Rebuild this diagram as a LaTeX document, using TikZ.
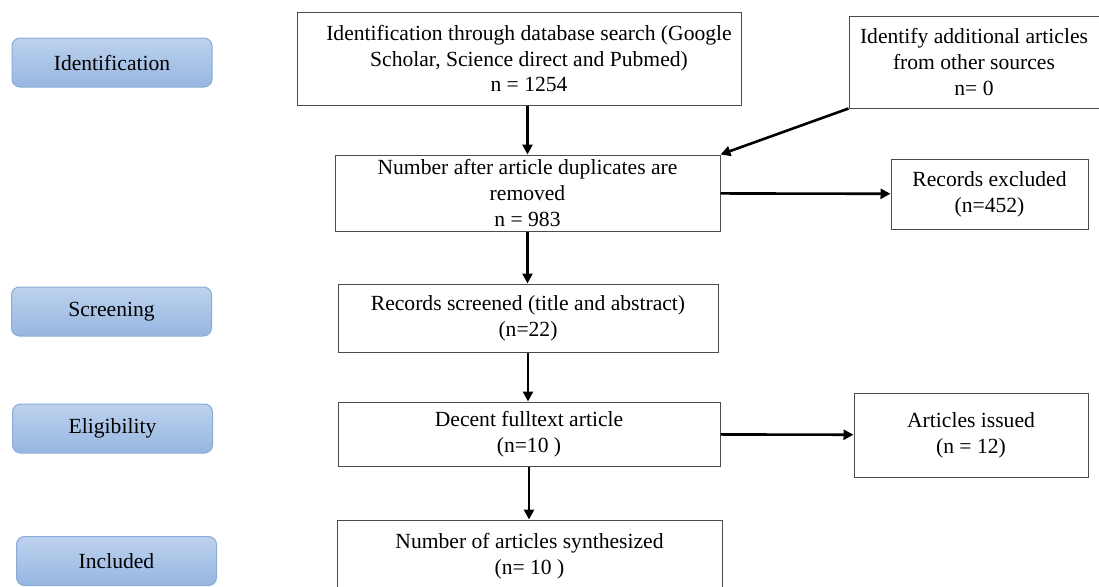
\documentclass[tikz,border=0pt]{standalone}
\usepackage{fontspec}
\setmainfont{Liberation Serif}
\usetikzlibrary{arrows.meta,positioning}
\definecolor{stagetop}{HTML}{BDD2EE}
\definecolor{stagebot}{HTML}{96B6E0}
\definecolor{stageline}{HTML}{8AABD6}
\tikzset{
    flow/.style={-{Triangle[length=5pt,width=5pt]},line width=1.3pt},
    box/.style ={rectangle, draw=black!70, line width=0.5pt, align=center,
                 inner sep=1pt, font=\fontsize{10.8}{12.9}\selectfont},
    stage/.style ={rectangle, rounded corners=4pt, draw=stageline, line width=0.5pt,
                   top color=stagetop, bottom color=stagebot,
                   minimum width=100pt, minimum height=24.5pt,
                   font=\fontsize{10.8}{12.9}\selectfont}
}
\begin{document}
\begin{tikzpicture}[x=0.5pt,y=-0.5pt]
    \useasboundingbox (0,0) rectangle (1099,586);
    \clip (0,0) rectangle (1099,586);

    \node[stage] (s1) at (112,62.5) {Identification};
    \node[stage] (s2) at (111.5,311.5) {Screening};
    \node[stage] (s3) at (112.5,428.5) {Eligibility};
    \node[stage] (s4) at (116.5,561) {Included};

    \node[box, minimum width=222pt, minimum height=46.5pt] (id) at (519,58.5)
        {\hspace*{10pt}Identification through database search (Google\\ \hspace*{10pt}Scholar, Science direct and Pubmed)\\ \hspace*{10pt}n = 1254};
    \node[box, minimum width=125pt, minimum height=46pt] (add) at (974,62)
        {Identify additional articles\\ from other sources\\ n= 0};
    \node[box, minimum width=192.5pt, minimum height=38pt] (dup) at (527.5,193)
        {Number after article duplicates are\\ removed\\ n = 983};
    \node[box, minimum width=98.5pt, minimum height=35pt] (exc) at (989.5,194)
        {Records excluded\\ (n=452)};
    \node[box, minimum width=190pt, minimum height=34pt] (scr) at (528,318)
        {Records screened (title and abstract)\\ (n=22)};
    \node[box, minimum width=191pt, minimum height=32pt] (full) at (529,434)
        {Decent fulltext article\\ (n=10 )};
    \node[box, minimum width=117pt, minimum height=42pt] (iss) at (971,435)
        {Articles issued\\ (n = 12)};
    \node[box, minimum width=192.5pt, minimum height=36.5pt] (syn) at (529.5,556.5)
        {Number of articles synthesized\\ (n= 10 )};

    \path[flow] (id.south -| dup.north) edge (dup.north);
    \path[flow] (add.south west) edge (dup.north east);
    \path[flow] (dup) edge (exc);
    \path[flow] (dup.south) edge (dup.south |- scr.north);
    \path[flow] (scr.south) edge (scr.south |- full.north);
    \path[flow] (full) edge (iss);
    \path[flow] (full.south) edge (full.south |- syn.north);
\end{tikzpicture}
\end{document}
